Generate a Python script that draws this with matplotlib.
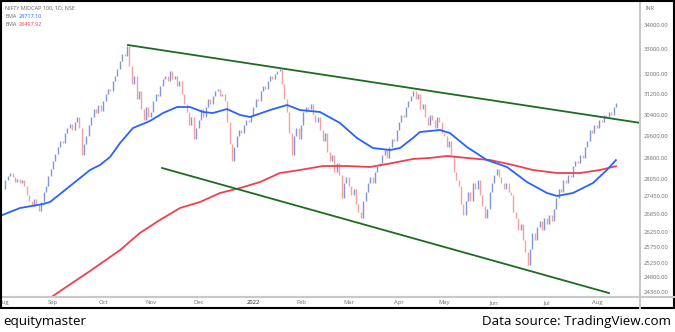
import matplotlib
matplotlib.use("Agg")
import matplotlib.pyplot as plt
from matplotlib.lines import Line2D
from matplotlib.patches import Rectangle
from matplotlib.ticker import FixedLocator, NullLocator, FuncFormatter

plt.rcParams['font.family'] = ['Open Sans', 'DejaVu Sans']

# daily closes, NIFTY MIDCAP 100, Aug 2021 - Aug 2022
closes = [
    # Aug 2021
    27700, 28000, 28150, 28250, 28100, 27950, 28050, 27900, 28000, 27800,
    27500, 27300, 27100, 27350, 27200, 26950, 27250, 27600, 27800, 28150, 28400,
    # Sep
    28700, 28950, 29200, 29400, 29350, 29700, 29900, 30050, 29800, 30100,
    30300, 29900, 28900, 29300, 29600, 30000, 30300, 30600, 30450, 30750, 30550,
    # Oct
    30900, 31200, 31400, 31300, 31700, 31900, 32200, 32500, 32800, 32700,
    33100, 32300, 31600, 31900, 31000, 31300, 30600, 30200, 30700, 30300,
    # Nov
    30500, 30900, 31200, 31100, 31500, 31800, 31900, 31700, 32100, 31800,
    31900, 31500, 31700, 31200, 30800, 30500, 30000, 30300, 29500, 29900,
    # Dec
    30200, 30600, 30300, 30700, 31000, 30800, 31100, 31300, 31400, 31100,
    31200, 30900, 30100, 29300, 28700, 29200, 29600, 29800, 29700, 30000,
    30200, 30100, 30400,
    # Jan 2022
    30700, 31000, 30900, 31300, 31500, 31400, 31700, 31900, 31800, 32000,
    32100, 32200, 31600, 31000, 30500, 29700, 28900, 29600, 29900, 29500,
    # Feb
    30000, 30500, 30700, 30600, 30800, 30400, 30100, 30300, 29800, 29400,
    29700, 29000, 28700, 28900, 28300, 28600, 28200, 27400, 27900, 28100,
    # Mar
    27800, 27500, 27700, 27200, 26900, 26700, 27300, 27600, 27900, 28100,
    27900, 28300, 28500, 28600, 28900, 29100, 28800, 29200, 29500, 29400, 29800,
    # Apr
    30100, 30400, 30300, 30700, 30900, 31100, 31300, 31000, 31200, 30600,
    30800, 30300, 30000, 30400, 30200, 29900, 30300, 30100, 29700,
    # May
    29600, 29200, 29400, 28900, 28300, 28000, 27800, 27200, 26800, 27300,
    27600, 27300, 27900, 27700, 28000, 27500, 27100, 26700, 27000, 27600, 27900,
    # Jun
    28200, 28400, 28100, 27900, 27700, 27900, 27600, 27500, 26900, 26700,
    26300, 26500, 26000, 25600, 25200, 25700, 26200, 26000, 26400, 26600,
    26300, 26700,
    # Jul
    26500, 26800, 26600, 27000, 27400, 27700, 27600, 28000, 27900, 28200,
    28100, 28500, 28700, 28600, 28900, 28800, 29200, 29400, 29800, 29700, 30000,
    # Aug 2022
    29900, 30200, 30100, 30400, 30300, 30500, 30400, 30700, 30850,
]

month_idx = [0, 21, 42, 62, 82, 105, 125, 145, 166, 185, 206, 228, 249]
month_lbl = ['Aug', 'Sep', 'Oct', 'Nov', 'Dec', '2022', 'Feb', 'Mar',
             'Apr', 'May', 'Jun', 'Jul', 'Aug']

# EMA curves, sampled at bar positions
ema_fast_idx = [-1.3, 7.1, 16.8, 19.7, 32.3, 36.5, 40.7, 44.9, 49.1, 54.5,
                61.6, 67.1, 73, 78.4, 83.9, 88, 93.9, 99.4, 103.6, 112, 119.1,
                124.5, 132.9, 141.3, 148.4, 155.1, 162.3, 166.5, 171.9, 174.8,
                183.2, 187.4, 194.5, 202.9, 211.3, 219.7, 228.1, 232.3, 239,
                247.4, 253.2, 257]
ema_fast_val = [26780, 27047, 27183, 27251, 28081, 28364, 28543, 28830, 29339,
                29893, 30154, 30458, 30688, 30688, 30498, 30458, 30610, 30383,
                30307, 30573, 30764, 30573, 30498, 30080, 29522, 29155, 29081,
                29155, 29522, 29743, 29818, 29705, 29192, 28720, 28471, 27941,
                27560, 27458, 27560, 27907, 28364, 28717.10]

ema_slow_idx = [10, 24.7, 36.5, 49.1, 57.4, 65.8, 74.2, 82.6, 91, 99.4, 107.8,
                116.1, 124.5, 134.2, 144.2, 153.9, 163.5, 171.9, 179, 186.2,
                194.5, 204.2, 213.8, 222.2, 232.3, 241.9, 250.3, 257]
ema_slow_val = [23690, 24416, 25000, 25663, 26217, 26647, 27047, 27251, 27560,
                27733, 27941, 28257, 28364, 28506, 28506, 28471, 28614, 28758,
                28794, 28866, 28794, 28720, 28543, 28364, 28257, 28257, 28364,
                28497.92]

# trend channel
upper_idx = [52.4, 267.5]
upper_val = [33160, 30080]
lower_idx = [66.7, 254.1]
lower_val = [28435, 24320]

y_ticks = [34000, 33000, 32000, 31200, 30400, 29600, 28800, 28050, 27450,
           26850, 26250, 25750, 25250, 24800, 24360]

W, H = 675, 332
fig = plt.figure(figsize=(W / 100, H / 100), dpi=100)
fig.patch.set_facecolor('white')
ax = fig.add_axes([0, 1 - 297 / H, 640 / W, 297 / H])

# price bars
opens = [closes[0]] + closes[:-1]
idx = list(range(len(closes)))
lows = [min(o, c) for o, c in zip(opens, closes)]
highs = [max(o, c) for o, c in zip(opens, closes)]
cols = ['#8197da' if c >= o else '#f6a0a0' for o, c in zip(opens, closes)]
ax.vlines(idx, lows, highs, colors=cols, lw=1.0)

ax.plot(ema_slow_idx, ema_slow_val, color='#f0404f', lw=1.3)
ax.plot(ema_fast_idx, ema_fast_val, color='#2962ff', lw=1.3)
ax.plot(upper_idx, upper_val, color='#1e6b1e', lw=1.3)
ax.plot(lower_idx, lower_val, color='#1e6b1e', lw=1.3)

ax.set_yscale('log')
ax.set_ylim(24200, 35080)
ax.set_xlim(-1.26, 267.1)

ax.yaxis.tick_right()
ax.yaxis.set_major_locator(FixedLocator(y_ticks))
ax.yaxis.set_minor_locator(NullLocator())
ax.yaxis.set_major_formatter(FuncFormatter(lambda v, p: f'{v:.2f}'))
ax.set_xticks(month_idx)
ax.set_xticklabels(month_lbl)
ax.tick_params(length=0, labelsize=4.2, colors='#6e6e6e')
ax.tick_params(axis='y', pad=3)
ax.tick_params(axis='x', pad=2.5)
ax.get_xticklabels()[5].set_color('#222222')

for s in ['top', 'left']:
    ax.spines[s].set_visible(False)
for s in ['right', 'bottom']:
    ax.spines[s].set_color('#c8c8c8')
    ax.spines[s].set_linewidth(1.5)

# axis lines continue into the margins
fig.add_artist(Line2D([640 / W, 1], [1 - 297 / H] * 2, color='#c8c8c8', lw=1.5))
fig.add_artist(Line2D([640 / W] * 2, [1 - 308 / H, 1 - 297 / H], color='#c8c8c8', lw=1.5))

# header
fig.text(5 / W, 1 - 8 / H, 'NIFTY MIDCAP 100, 1D, NSE', fontsize=4, color='#666666', va='center')
fig.text(5 / W, 1 - 16 / H, 'EMA', fontsize=4, color='#666666', va='center')
fig.text(19 / W, 1 - 16 / H, '28717.10', fontsize=4, color='#2962ff', va='center')
fig.text(5 / W, 1 - 24 / H, 'EMA', fontsize=4, color='#666666', va='center')
fig.text(19 / W, 1 - 24 / H, '28497.92', fontsize=4, color='#f0404f', va='center')
fig.text(645 / W, 1 - 8 / H, 'INR', fontsize=4, color='#6e6e6e', va='center')

# outer frame
fig.add_artist(Rectangle((0.75 / W, 1 - 307.5 / H), 673.5 / W, 306.75 / H,
                         transform=fig.transFigure, fill=False, ec='black', lw=1.5))

fig.text(3 / W, 1 - 321 / H, 'equitymaster', fontsize=9.6, color='black', va='center')
fig.text(671 / W, 1 - 321 / H, 'Data source: TradingView.com', fontsize=9.6,
         color='black', va='center', ha='right')

fig.savefig('out.png', dpi=100)
